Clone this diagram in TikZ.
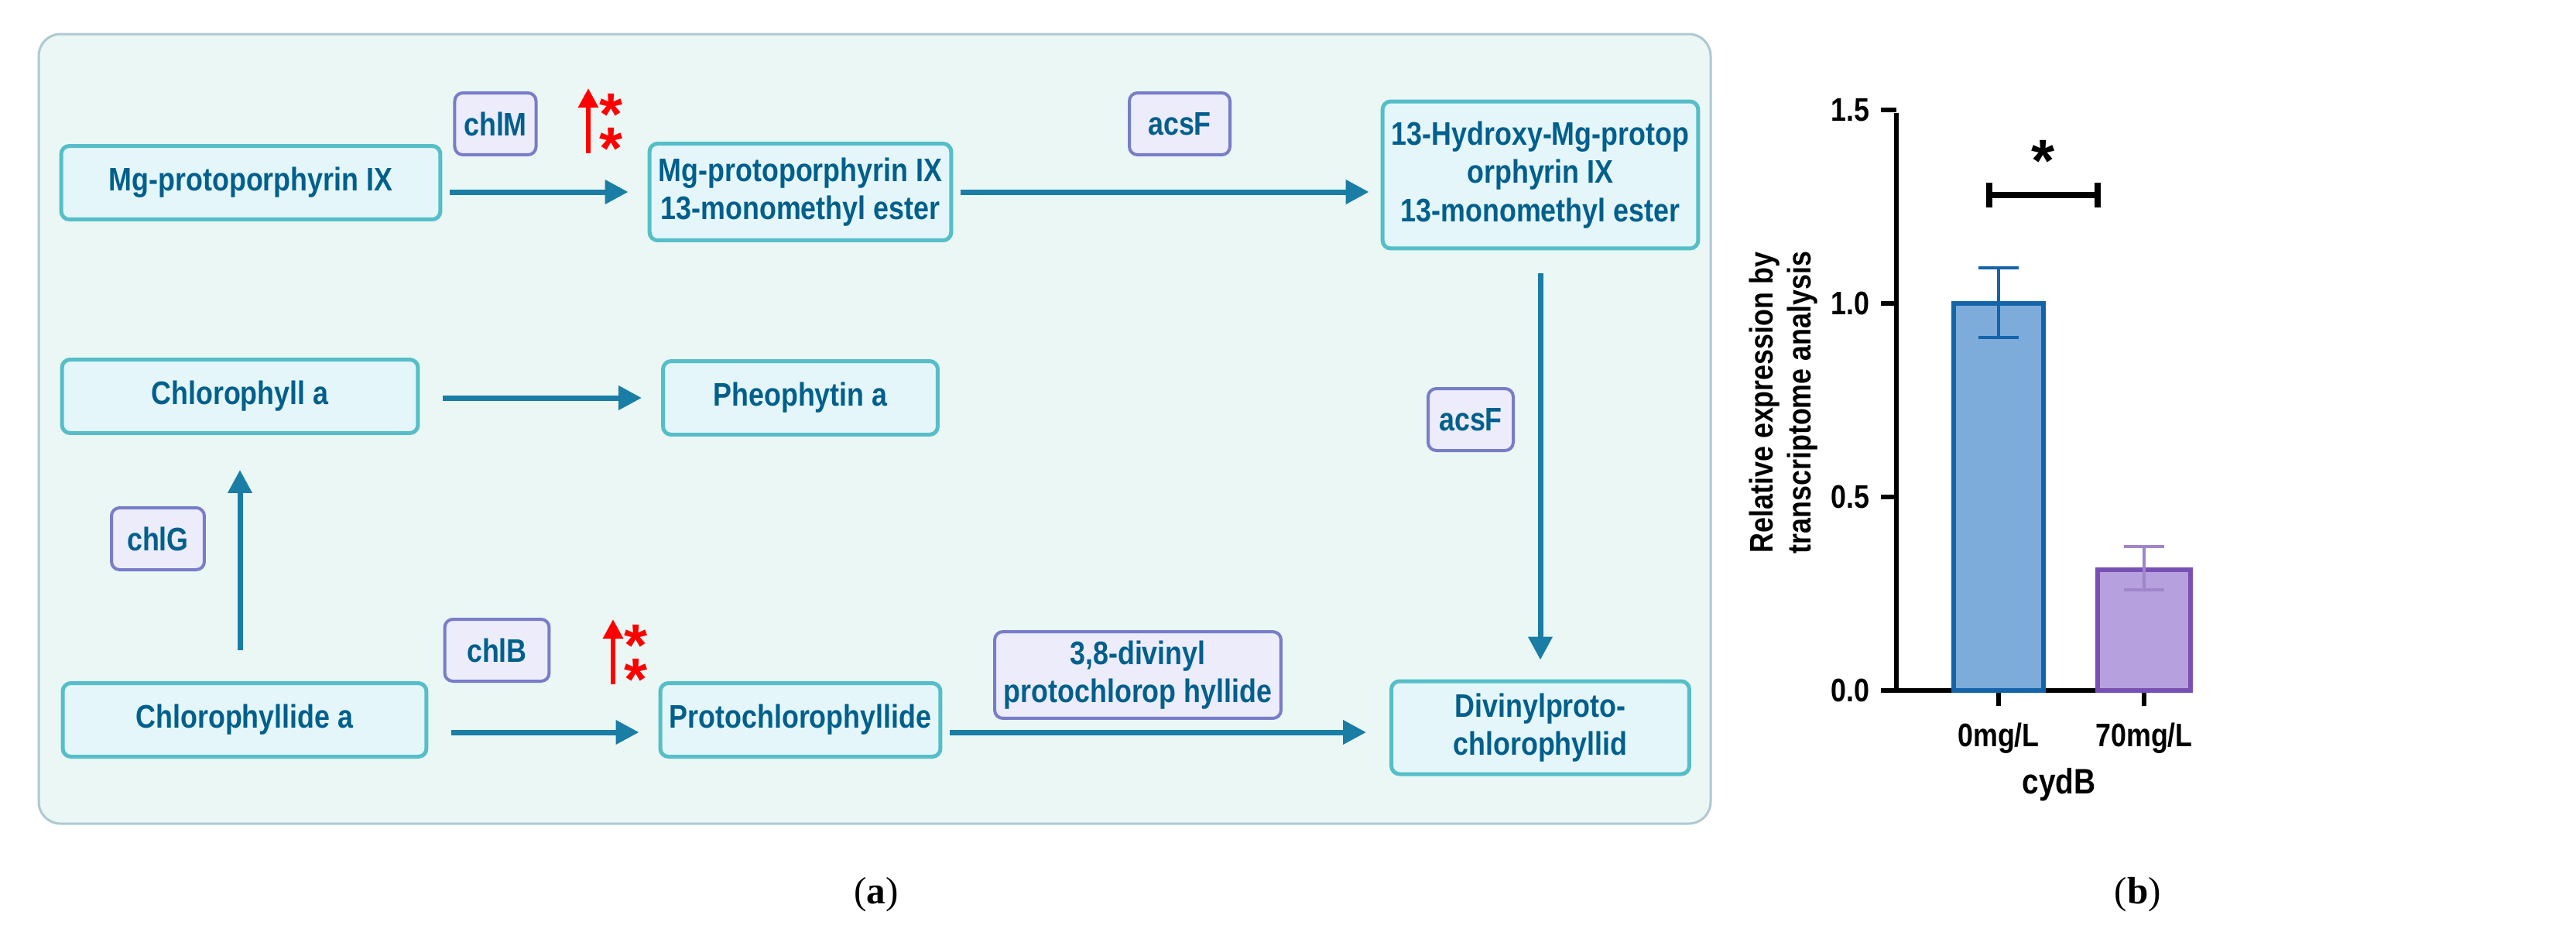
\documentclass[tikz,border=0pt]{standalone}
\usepackage{fontspec}
\setmainfont{Liberation Serif}
\newfontfamily\labfont{Liberation Sans}[FakeStretch=0.85]
\newfontfamily\starfont{Liberation Sans}
\usetikzlibrary{arrows.meta, positioning, calc}
\definecolor{txtblue}{RGB}{0,95,140}
\definecolor{boxline}{RGB}{85,190,200}
\definecolor{boxfill}{RGB}{228,246,249}
\definecolor{enzline}{RGB}{120,125,200}
\definecolor{enzfill}{RGB}{236,236,250}
\definecolor{flow}{RGB}{25,125,165}
\definecolor{panelfill}{RGB}{234,247,244}
\definecolor{panelline}{RGB}{175,200,210}
\definecolor{barblue}{RGB}{125,172,218}
\definecolor{barblueline}{RGB}{20,100,170}
\definecolor{barpurple}{RGB}{182,160,222}
\definecolor{barpurpleline}{RGB}{120,80,180}

\begin{document}
\begin{tikzpicture}[x=0.02cm, y=-0.02cm, >=Stealth, line width=0.3mm,
    cmpd/.style={draw=boxline, fill=boxfill, rounded corners=3pt, line width=0.5mm,
        align=center, text=txtblue, font=\labfont\bfseries\fontsize{12}{14}\selectfont,
        minimum height=0.95cm},
    enz/.style={draw=enzline, fill=enzfill, rounded corners=3pt, line width=0.4mm,
        align=center, text=txtblue, font=\labfont\bfseries\fontsize{12}{14}\selectfont,
        minimum height=0.8cm},
    flw/.style={->, flow, line width=0.7mm, >={Triangle[length=3mm,width=3mm]}},
    up/.style={->, red, line width=0.6mm, >={Triangle[length=2.5mm,width=2.5mm]}},
    star/.style={text=red, font=\starfont\bfseries\fontsize{22}{22}\selectfont, inner sep=0pt},
    tick/.style={font=\labfont\bfseries\fontsize{12}{14}\selectfont}]
    \useasboundingbox (0,0) rectangle (1664,602);

    % Panel (a) background
    \draw[panelline, fill=panelfill, rounded corners=8pt, line width=0.3mm] (25,22) rectangle (1105,532);

    % Compounds
    \node[cmpd, minimum width=4.9cm] (mgp) at (162,118) {Mg-protoporphyrin IX};
    \node[cmpd, minimum width=3.55cm, minimum height=1.25cm] (mgme) at (517,124) {Mg-protoporphyrin IX\\13-monomethyl ester};
    \node[cmpd, minimum width=4.05cm, minimum height=1.9cm] (hydr) at (995,113) {13-Hydroxy-Mg-protop\\orphyrin IX\\13-monomethyl ester};
    \node[cmpd, minimum width=4.6cm] (chla) at (155,256) {Chlorophyll a};
    \node[cmpd, minimum width=3.55cm] (pheo) at (517,257) {Pheophytin a};
    \node[cmpd, minimum width=4.7cm] (chlide) at (158,465) {Chlorophyllide a};
    \node[cmpd, minimum width=3.55cm] (pchlide) at (517,465) {Protochlorophyllide};
    \node[cmpd, minimum width=3.85cm, minimum height=1.2cm] (dvp) at (995,470) {Divinylproto-\\chlorophyllid};

    % Enzymes
    \node[enz, minimum width=1cm] (chlM) at (320,80) {chlM};
    \node[enz, minimum width=1.3cm] (acsFa) at (762,80) {acsF};
    \node[enz, minimum width=1.1cm] (acsFb) at (950,271) {acsF};
    \node[enz, minimum width=1.2cm] (chlG) at (102,348) {chlG};
    \node[enz, minimum width=1.35cm] (chlB) at (321,420) {chlB};
    \node[enz, minimum width=3cm, minimum height=0.95cm] (dvpc) at (735,436) {3,8-divinyl\\protochlorop hyllide};

    % Reactions
    \draw[flw] ([xshift=0.1cm]mgp.east |- mgme) -- ([xshift=-0.25cm]mgme.west);
    \draw[flw] ([xshift=0.1cm]mgme.east) -- ([xshift=-0.15cm]hydr.west |- mgme);
    \draw[flw] ([yshift=-0.3cm]hydr.south) -- ([yshift=0.25cm]dvp.north);
    \draw[flw] ([xshift=0.3cm]chla.east |- pheo) -- ([xshift=-0.25cm]pheo.west);
    \draw[flw] ([yshift=0.4cm]chla.south |- chlide.north) -- ([yshift=-0.45cm]chla.south);
    \draw[flw] ([xshift=0.3cm]chlide.east |- 0,473) -- ([xshift=-0.25cm]pchlide.west |- 0,473);
    \draw[flw] ([xshift=0.1cm]pchlide.east |- 0,473) -- ([xshift=-0.3cm]dvp.west |- 0,473);

    % Up-regulation marks
    \coordinate (upM) at (380,99);
    \coordinate (upB) at (396,442);
    \draw[up] (upM) -- ++(0,-42);
    \draw[up] (upB) -- ++(0,-42);
    \node[star] (sM1) at (395,74) {*};
    \node[star] (sM2) at (395,96) {*};
    \node[star] (sB1) at (411,417) {*};
    \node[star] (sB2) at (411,439) {*};

    % Panel (b) bar chart
    \draw[line width=0.6mm] (1225,73) -- (1225,446) -- (1395,446);
    \foreach \v/\t in {0/0.0, 0.5/0.5, 1/1.0, 1.5/1.5}
        \draw[line width=0.6mm] (1225,446-250*\v) -- ++(-10,0) node[tick, left] {\t};
    \draw[line width=0.6mm] (1291,446) -- ++(0,10) node[tick, below=2pt] {0mg/L};
    \draw[line width=0.6mm] (1385,446) -- ++(0,10) node[tick, below=2pt] (lab70) {70mg/L};
    \node[font=\labfont\bfseries\fontsize{13}{15}\selectfont] (cydB) at (1330,507) {cydB};
    \node[font=\labfont\bfseries\fontsize{12}{14}\selectfont, rotate=90, align=center] (ylab) at (1152,260) {Relative expression by\\transcriptome analysis};
    \draw[barblueline, fill=barblue, line width=0.6mm] (1262,446) rectangle (1320,196);
    \draw[barpurpleline, fill=barpurple, line width=0.6mm] (1355,446) rectangle (1415,368);
    \draw[barblueline, line width=0.4mm] (1291,218) -- (1291,173) (1278,218) -- (1304,218) (1278,173) -- (1304,173);
    \draw[barpurpleline!70, line width=0.4mm] (1385,381) -- (1385,353) (1372,381) -- (1398,381) (1372,353) -- (1398,353);
    \draw[line width=0.8mm] (1285,126) -- (1355,126) (1285,118) -- (1285,134) (1355,118) -- (1355,134);
    \node[font=\starfont\bfseries\fontsize{22}{22}\selectfont] (sig) at (1320,104) {*};

    % Captions
    \node[font=\fontsize{14}{16}\selectfont] (capa) at (566,578) {(\textbf{a})};
    \node[font=\fontsize{14}{16}\selectfont] (capb) at (1381,578) {(\textbf{b})};
\end{tikzpicture}
\end{document}
